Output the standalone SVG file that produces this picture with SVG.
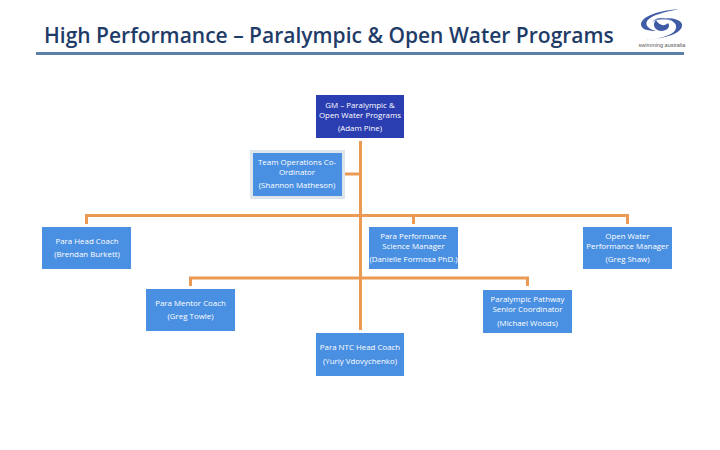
<svg xmlns="http://www.w3.org/2000/svg" width="720" height="450" viewBox="0 0 720 450">
<style>
.t{font-family:"Open Sans","Liberation Sans",sans-serif;font-size:7.900px;fill:#fff;text-anchor:middle}
.b{fill:#4a90e2}
.c{fill:none;stroke:#ea9a53;stroke-width:3}
</style>
<rect width="720" height="450" fill="#fff"/>
<text x="44" y="43" font-family="'Open Sans','Liberation Sans',sans-serif" font-size="21" font-weight="600" fill="#1f3c68">High Performance – Paralympic &amp; Open Water Programs</text>
<rect x="36" y="52" width="648" height="3" fill="#5b7fa8"/>
<g id="logo">
<path d="M641 24C642 17 655 11 679 9C665 12 651 15 647 21C645 25 648 29 656 31C647 31 641 29 641 24Z" fill="#3f5ba6"/>
<path d="M646 40C664 38 675 34 676 28C677 23 672 20 665 18C676 18 683 21 682 26C681 33 668 38 646 40Z" fill="#3f5ba6"/>
<path d="M656 20C652 24 654 30 661 31C667 31 671 27 668 23C664 27 659 25 656 20Z" fill="#3f5ba6"/>
<path d="M652 22C656 17 665 16 671 21C665 19 658 19 652 22Z" fill="#6f84bd"/>
<text x="662" y="47" font-family="'Liberation Sans',sans-serif" font-size="5.500" fill="#555" text-anchor="middle">swimming australia</text>
</g>
<g id="connectors">
<path class="c" d="M360.500 141V330M345 174H360M86.500 224V215.500H627.500V224M413.500 215.500V224M190.500 286V278H527.500V286"/>
</g>
<g id="gm"><rect x="316" y="95" width="88" height="43" fill="#2a3eb1"/>
<text class="t" x="360" y="108">GM – Paralympic &amp;</text><text class="t" x="360" y="118">Open Water Programs</text><text class="t" x="360" y="131">(Adam Pine)</text></g>
<g id="team"><rect x="251.500" y="151.500" width="92" height="46" fill="#4a90e2" stroke="#dde5ec" stroke-width="3"/>
<text class="t" x="297" y="165">Team Operations Co-</text><text class="t" x="297" y="175">Ordinator</text><text class="t" x="297" y="188">(Shannon Matheson)</text></g>
<g id="head"><rect class="b" x="42" y="227" width="89" height="42"/>
<text class="t" x="87" y="244">Para Head Coach</text><text class="t" x="87" y="257">(Brendan Burkett)</text></g>
<g id="perf"><rect class="b" x="369" y="227" width="89" height="42"/>
<text class="t" x="413.500" y="239">Para Performance</text><text class="t" x="413.500" y="249">Science Manager</text><text class="t" x="413.500" y="262">(Danielle Formosa PhD.)</text></g>
<g id="open"><rect class="b" x="583" y="227" width="89" height="42"/>
<text class="t" x="627.500" y="239">Open Water</text><text class="t" x="627.500" y="249">Performance Manager</text><text class="t" x="627.500" y="262">(Greg Shaw)</text></g>
<g id="mentor"><rect class="b" x="146" y="289" width="89" height="42"/>
<text class="t" x="190.500" y="306">Para Mentor Coach</text><text class="t" x="190.500" y="319">(Greg Towle)</text></g>
<g id="pathway"><rect class="b" x="483" y="290" width="89" height="43"/>
<text class="t" x="527.500" y="302">Paralympic Pathway</text><text class="t" x="527.500" y="312">Senior Coordinator</text><text class="t" x="527.500" y="326">(Michael Woods)</text></g>
<g id="ntc"><rect class="b" x="316" y="333" width="88" height="43"/>
<text class="t" x="360" y="350">Para NTC Head Coach</text><text class="t" x="360" y="364">(Yuriy Vdovychenko)</text></g>
</svg>
